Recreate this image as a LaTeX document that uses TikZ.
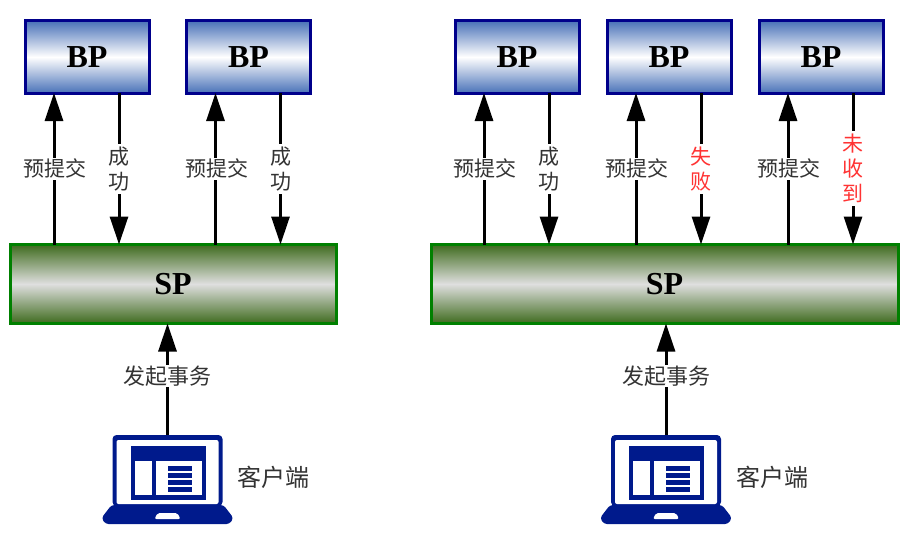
\documentclass[tikz,border=0pt]{standalone}
\usepackage{fontspec}
\setmainfont{Liberation Serif}
\newfontfamily\cjk{Noto Sans CJK SC}
\usepackage{tikz}
\usepackage{xcolor}
\usetikzlibrary{arrows.meta, positioning}
\definecolor{navyline}{HTML}{00008B}
\definecolor{laptopblue}{HTML}{001A8C}
\definecolor{greenline}{HTML}{008000}
\definecolor{bpshade}{HTML}{4A72B8}
\definecolor{spshade}{HTML}{3F6B1E}
\definecolor{labelgray}{HTML}{333333}
\definecolor{failred}{HTML}{FF3333}
\tikzstyle{bpbox} = [rectangle, minimum width=124pt, minimum height=72pt, outer sep=0pt, line width=3pt,
                     draw=navyline, top color=bpshade, bottom color=bpshade, middle color=white,
                     text=black, font=\fontsize{32}{32}\selectfont\bfseries]
\tikzstyle{spbox} = [rectangle, minimum height=79pt, outer sep=0pt, line width=3pt,
                     draw=greenline, top color=spshade, bottom color=spshade, middle color=gray!25,
                     text=black, font=\fontsize{32}{32}\selectfont\bfseries]
\tikzstyle{arrow} = [-{Triangle[length=28pt, width=18pt]}, line width=3pt, black]
\tikzstyle{lbl}   = [fill=white, text=labelgray, inner sep=1pt, font=\fontsize{21}{25}\selectfont\cjk, align=center]
\tikzstyle{startlbl} = [lbl, font=\fontsize{22}{25}\selectfont\cjk]
\tikzstyle{clientlbl} = [lbl, font=\fontsize{24}{25}\selectfont\cjk]
\tikzstyle{vlbl}  = [lbl, inner ysep=3pt, text width=22pt]
\tikzstyle{redlbl} = [vlbl, text=failred]
\tikzstyle{pcbox} = [rectangle, minimum width=110pt, minimum height=70pt, outer sep=0pt, inner sep=0pt]
\tikzset{
  laptop/.pic={
    \fill[laptopblue, rounded corners=4pt] (-55,36) -- (-55,-35) -- (55,-35) -- (55,36) -- cycle;
    \fill[white, rounded corners=2pt] (-51,34) -- (-51,-30) -- (51,-30) -- (51,34) -- cycle;
    \fill[laptopblue, rounded corners=3pt] (-56,35) -- (56,35) -- (66,48) -- (62,54) -- (-62,54) -- (-66,48) -- cycle;
    \fill[white, rounded corners=2pt] (-13,49) -- (-10,43) -- (10,43) -- (13,49) -- cycle;
    \fill[laptopblue] (-37,-24) rectangle (38,30);
    \fill[white] (-33,-9) rectangle (-16,25);
    \fill[white] (-12,-9) rectangle (34,25);
    \foreach \ypos in {-4,3,10,17} {
      \fill[laptopblue] (0,\ypos) rectangle (24,\ypos+5);
    }
  }
}

\begin{document}
\begin{tikzpicture}[x=1pt, y=-1pt]
    \useasboundingbox (0,0) rectangle (915,543);
    % left group
    \node (bpa) [bpbox] at (87,57) {BP};
    \node (bpb) [bpbox] at (248.5,57) {BP};
    \node (spa) [spbox, minimum width=326pt] at (173,284) {SP};
    \node (pca) [pcbox] at (167.5,470) {};
    \pic at (pca) {laptop};
    \node (cla) [clientlbl, right=14pt of pca, yshift=-7pt] {客户端};

    % right group
    \node (bpc) [bpbox] at (517,57) {BP};
    \node (bpd) [bpbox] at (669,57) {BP};
    \node (bpe) [bpbox] at (821,57) {BP};
    \node (spb) [spbox, minimum width=467pt] at (664.5,284) {SP};
    \node (pcb) [pcbox] at (666,470) {};
    \pic at (pcb) {laptop};
    \node (clb) [clientlbl, right=14pt of pcb, yshift=-7pt] {客户端};

    \draw[arrow] ([xshift=-33pt]bpa.south |- spa.north) -- node[lbl, xshift=1pt] {预提交} ([xshift=-33pt]bpa.south);
    \draw[arrow] ([xshift=32pt]bpa.south) -- node[vlbl] {成\\功} ([xshift=32pt]bpa.south |- spa.north);
    \draw[arrow] ([xshift=-33pt]bpb.south |- spa.north) -- node[lbl, xshift=1pt] {预提交} ([xshift=-33pt]bpb.south);
    \draw[arrow] ([xshift=32pt]bpb.south) -- node[vlbl] {成\\功} ([xshift=32pt]bpb.south |- spa.north);
    \draw[arrow] (pca.north) -- node[startlbl, pos=0.53] {发起事务} (spa.south -| pca.north);

    \draw[arrow] ([xshift=-33pt]bpc.south |- spb.north) -- node[lbl, xshift=1pt] {预提交} ([xshift=-33pt]bpc.south);
    \draw[arrow] ([xshift=32pt]bpc.south) -- node[vlbl] {成\\功} ([xshift=32pt]bpc.south |- spb.north);
    \draw[arrow] ([xshift=-33pt]bpd.south |- spb.north) -- node[lbl, xshift=1pt] {预提交} ([xshift=-33pt]bpd.south);
    \draw[arrow] ([xshift=32pt]bpd.south) -- node[redlbl] {失\\败} ([xshift=32pt]bpd.south |- spb.north);
    \draw[arrow] ([xshift=-33pt]bpe.south |- spb.north) -- node[lbl, xshift=1pt] {预提交} ([xshift=-33pt]bpe.south);
    \draw[arrow] ([xshift=32pt]bpe.south) -- node[redlbl] {未\\收\\到} ([xshift=32pt]bpe.south |- spb.north);
    \draw[arrow] (pcb.north) -- node[startlbl, pos=0.53] {发起事务} (spb.south -| pcb.north);
\end{tikzpicture}
\end{document}
